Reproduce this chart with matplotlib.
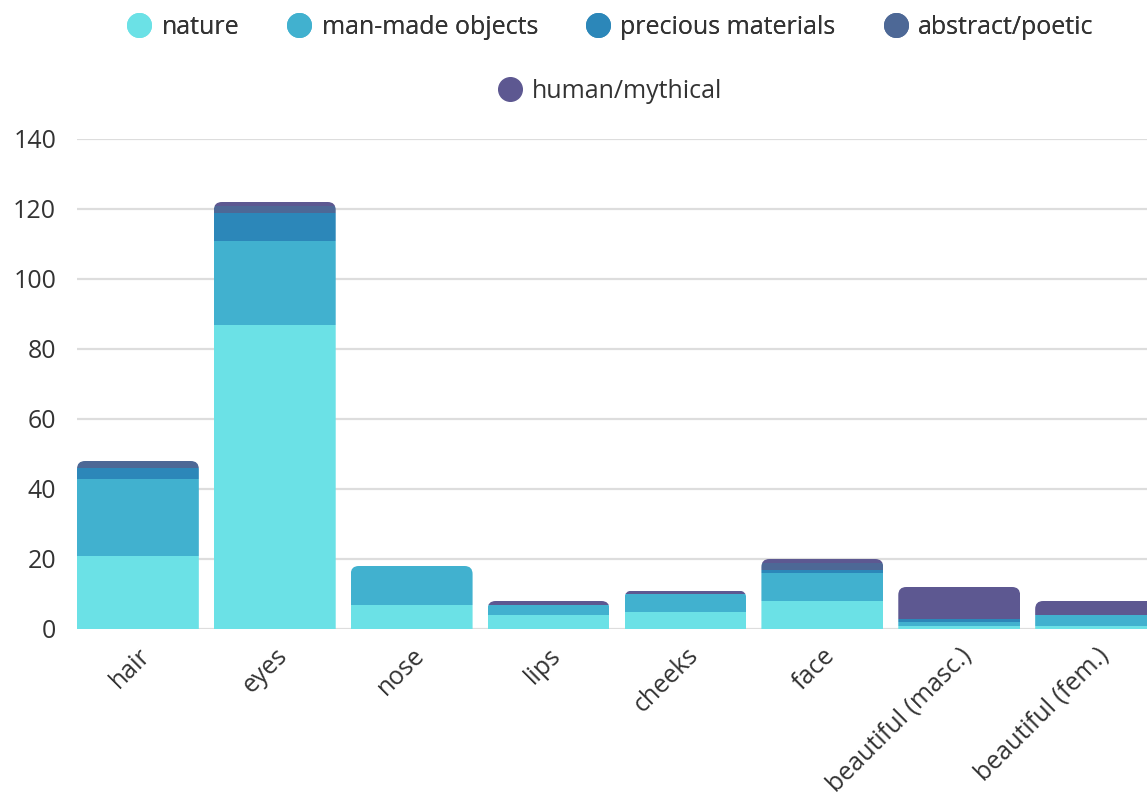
import matplotlib
matplotlib.use("Agg")
import matplotlib.pyplot as plt
from matplotlib.lines import Line2D
from matplotlib.patches import FancyBboxPatch
import numpy as np

categories = ["hair", "eyes", "nose", "lips", "cheeks", "face",
              "beautiful (masc.)", "beautiful (fem.)"]
series_names = ["nature", "man-made objects", "precious materials",
                "abstract/poetic", "human/mythical"]
nature = [21, 87, 7, 4, 5, 8, 1, 1]
man_made = [22, 24, 11, 3, 5, 8, 1, 3]
precious = [3, 8, 0, 0, 0, 1, 1, 0]
abstract = [2, 2, 0, 0, 0, 2, 0, 0]
human = [0, 1, 0, 1, 1, 1, 9, 4]
colors = ["#6be1e6", "#41b1cf", "#2c87b9", "#4d6896", "#5d5891"]

plt.rcParams["font.family"] = ["Open Sans", "DejaVu Sans"]
TEXT = "#333333"

fig = plt.figure(figsize=(11.47, 7.97), dpi=100)
ax = fig.add_axes([77 / 1147, 168 / 797, 1070 / 1147, 490 / 797])

x = np.arange(len(categories))
width = 0.89
bottom = np.zeros(len(categories))
bars = []
for vals, col in zip([nature, man_made, precious, abstract, human], colors):
    b = ax.bar(x, vals, width, bottom=bottom, color=col, zorder=3, linewidth=0)
    bars.append(b)
    bottom += np.array(vals)

# rounded tops: clip every stack to a rounded box
rx = 8 / 137
ry = 8 / 3.5
for i, total in enumerate(bottom):
    box = FancyBboxPatch((x[i] - width / 2, -10), width, total + 10,
                         boxstyle=f"round,pad=0,rounding_size={rx}",
                         mutation_aspect=ry / rx, transform=ax.transData,
                         facecolor="none", edgecolor="none")
    ax.add_patch(box)
    for b in bars:
        b[i].set_clip_path(box)

ax.set_ylim(0, 140)
ax.set_xlim(-width / 2, 7.372)
ax.set_yticks(range(0, 141, 20))
ax.grid(axis="y", color="#dddddd", linewidth=1.6, zorder=0)
for s in ax.spines.values():
    s.set_visible(False)
ax.tick_params(axis="both", length=0, labelsize=18, labelcolor=TEXT)
ax.tick_params(axis="y", pad=15)
ax.tick_params(axis="x", pad=10)
ax.set_xticks(x)
ax.set_xticklabels(categories, rotation=45, ha="right", rotation_mode="anchor")

handles = [Line2D([], [], marker="o", linestyle="none", markersize=17,
                  markerfacecolor=c, markeredgecolor=c) for c in colors]
leg_kw = dict(loc="center", frameon=False, fontsize=18, handlelength=1.0,
              handletextpad=0.4, columnspacing=1.9, labelcolor=TEXT)
leg1 = fig.legend(handles[:4], series_names[:4], ncol=4,
                  bbox_to_anchor=(610 / 1147, 1 - 27 / 797), **leg_kw)
fig.legend(handles[4:], series_names[4:],
           bbox_to_anchor=(610 / 1147, 1 - 91 / 797), **leg_kw)
fig.add_artist(leg1)

fig.savefig("out.png", dpi=100)
